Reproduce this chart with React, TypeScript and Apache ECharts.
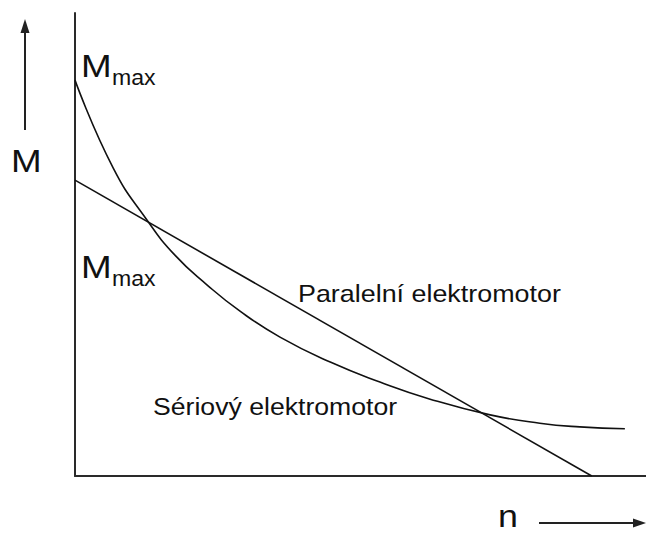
import React, { useEffect, useRef } from "react";
import * as echarts from "echarts";

// Values (arbitrary units: n 0..100, M 0..100)
const parallelN = [0, 90.5];
const parallelM = [63.9, 0];

const seriesN = [0, 6.7, 12.6, 17.5, 23.1, 28.9, 35.9, 44.7, 53.4, 62.2, 72.7, 81.4, 88.4, 96.3];
const seriesM = [85.5, 66.5, 55.3, 47.7, 41.3, 35.6, 30.0, 24.6, 20.3, 16.6, 13.2, 11.4, 10.6, 10.2];

const labelParallel = "Paralelní elektromotor";
const labelSerial = "Sériový elektromotor";
const labelM = "M";
const labelMmaxMain = "M";
const labelMmaxSub = "max";
const labelN = "n";

const FONT = '"Liberation Sans", Arial, Helvetica, sans-serif';
const INK = "#111";

function txt(text: string, x: number, baseline: number, size: number, scaleX: number) {
  return {
    type: "text",
    x,
    y: baseline - 0.347 * size,
    scaleX,
    style: {
      text,
      font: `${size}px ${FONT}`,
      fill: INK,
      align: "left",
      verticalAlign: "middle",
    },
  };
}

export default function App() {
  const ref = useRef<HTMLDivElement>(null);
  useEffect(() => {
    if (!ref.current) return;
    const chart = echarts.init(ref.current, null, { renderer: "svg" });
    const axisCommon = {
      type: "value",
      min: 0,
      max: 100,
      axisLine: { show: true, lineStyle: { color: "#2a2a2a", width: 2 } },
      axisTick: { show: false },
      axisLabel: { show: false },
      splitLine: { show: false },
    };
    chart.setOption({
      animation: false,
      backgroundColor: "#ffffff",
      grid: { left: 75, right: 0, top: 13, bottom: 57 },
      xAxis: { ...axisCommon },
      yAxis: { ...axisCommon },
      series: [
        {
          name: labelParallel,
          type: "line",
          data: parallelN.map((n, i) => [n, parallelM[i]]),
          showSymbol: false,
          lineStyle: { color: INK, width: 1.6 },
        },
        {
          name: labelSerial,
          type: "line",
          smooth: 0.5,
          data: seriesN.map((n, i) => [n, seriesM[i]]),
          showSymbol: false,
          lineStyle: { color: INK, width: 1.6 },
        },
      ],
      graphic: [
        txt(labelM, 11, 172, 32, 1.15),
        txt(labelMmaxMain, 81, 77, 32, 1.15),
        txt(labelMmaxSub, 112, 85, 22, 1.05),
        txt(labelMmaxMain, 81, 278, 32, 1.15),
        txt(labelMmaxSub, 112, 286, 22, 1.05),
        txt(labelParallel, 298, 302, 24, 1.12),
        txt(labelSerial, 153, 415, 24, 1.11),
        txt(labelN, 498, 527, 32, 1.12),
        {
          type: "line",
          shape: { x1: 25, y1: 130, x2: 25, y2: 30 },
          style: { stroke: "#222", lineWidth: 2 },
        },
        {
          type: "polygon",
          shape: { points: [[25, 19], [20.5, 33], [29.5, 33]] },
          style: { fill: "#222" },
        },
        {
          type: "line",
          shape: { x1: 539, y1: 523, x2: 634, y2: 523 },
          style: { stroke: "#222", lineWidth: 2 },
        },
        {
          type: "polygon",
          shape: { points: [[646, 523], [633, 518.5], [633, 527.5]] },
          style: { fill: "#222" },
        },
      ],
    });
    return () => chart.dispose();
  }, []);
  return (
    <div
      ref={ref}
      style={{ position: "fixed", left: 0, top: 0, width: 646, height: 533, background: "#fff" }}
    />
  );
}
